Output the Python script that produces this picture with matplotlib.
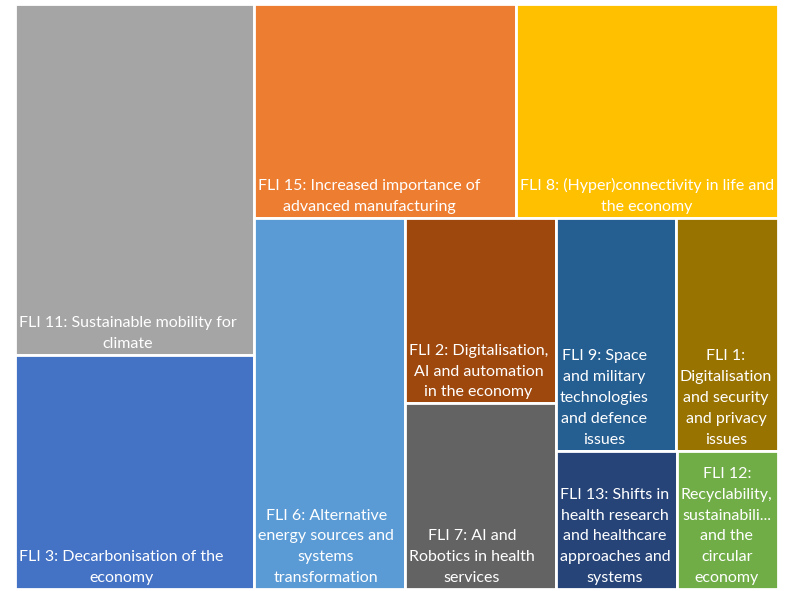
import matplotlib.pyplot as plt
from matplotlib.patches import Rectangle

# values (relative areas)
labels = [
    "FLI 11: Sustainable mobility for\nclimate",
    "FLI 3: Decarbonisation of the\neconomy",
    "FLI 15: Increased importance of\nadvanced manufacturing",
    "FLI 8: (Hyper)connectivity in life and\nthe economy",
    "FLI 6: Alternative\nenergy sources and\nsystems\ntransformation",
    "FLI 2: Digitalisation,\nAI and automation\nin the economy",
    "FLI 7: AI and\nRobotics in health\nservices",
    "FLI 9: Space\nand military\ntechnologies\nand defence\nissues",
    "FLI 1:\nDigitalisation\nand security\nand privacy\nissues",
    "FLI 13: Shifts in\nhealth research\nand healthcare\napproaches and\nsystems",
    "FLI 12:\nRecyclability,\nsustainabili...\nand the\ncircular\neconomy",
]
values = [30, 20, 20, 20, 20, 10, 10, 10, 8.5, 6, 5]
colors = ["#A5A5A5", "#4472C4", "#ED7D31", "#FFC000", "#5B9BD5", "#9E480E",
          "#636363", "#255E91", "#997300", "#264478", "#70AD47"]

# how the items are grouped in the tiling ('h' = side by side, 'v' = stacked)
groups = ('h', [('v', [0, 1]),
                ('v', [('h', [2, 3]),
                       ('h', [4, ('v', [5, 6]),
                              ('v', [('h', [7, 8]), ('h', [9, 10])])])])])


def total(node):
    if isinstance(node, int):
        return values[node]
    return sum(total(c) for c in node[1])


def layout(node, x, y, w, h, out):
    # y measured from the top
    if isinstance(node, int):
        out[node] = (x, y, w, h)
        return
    kind, kids = node
    s = total(node)
    pos = 0.0
    for k in kids:
        frac = total(k) / s
        if kind == 'h':
            layout(k, x + pos * w, y, frac * w, h, out)
        else:
            layout(k, x, y + pos * h, w, frac * h, out)
        pos += frac


W, H = 763, 585
rects = {}
layout(groups, 0, 0, W, H, rects)

fig = plt.figure(figsize=(7.9, 5.91), dpi=100)
ax = fig.add_axes([15 / 790, 2 / 591, W / 790, H / 591])
ax.set_xlim(0, W)
ax.set_ylim(H, 0)
ax.axis('off')

for i, lab in enumerate(labels):
    x, y, w, h = rects[i]
    ax.add_patch(Rectangle((x, y), w, h, facecolor=colors[i],
                           edgecolor='white', linewidth=2))
    ax.text(x + 4, y + h - 4, lab, color='white', fontsize=11.5,
            family='Lato', ha='left', va='bottom', multialignment='center',
            linespacing=1.62)

plt.savefig('out.png', dpi=100)
